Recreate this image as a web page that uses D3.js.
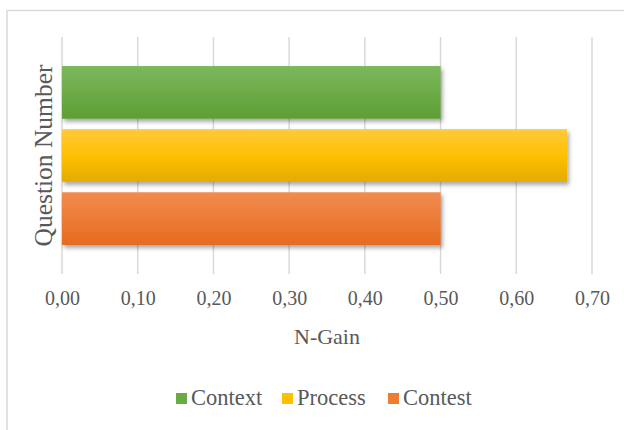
<!DOCTYPE html>
<html>
<head>
<meta charset="utf-8">
<script src="https://cdn.jsdelivr.net/npm/d3@7"></script>
<style>
  body { margin: 0; background: #fff; }
  text { font-family: "Liberation Serif", "Times New Roman", serif; fill: #595959; }
</style>
</head>
<body>
<div class="chart"></div>
<script>
// DATA ------------------------------
const categories = ['Context', 'Process', 'Contest']
const values = [0.50, 0.667, 0.50]
const ticks = [0, 0.1, 0.2, 0.3, 0.4, 0.5, 0.6, 0.7]
const colors = [
  ['#7cb85d', '#5e9e34'],
  ['#ffca3c', '#ffc000', '#e4ab00'],
  ['#f28c50', '#e56b1f']
]
const legendColors = ['#6aab44', '#ffc000', '#ed7d31']

const W = 624, H = 430
const margin = ({top: 37, right: 32, bottom: 156, left: 62})
const width = W - margin.left - margin.right
const height = H - margin.top - margin.bottom

const root = d3.select('.chart').append('svg')
  .attr('width', W).attr('height', H)

// outer frame (only left and top visible)
root.append('rect')
  .attr('x', 7).attr('y', 10.5)
  .attr('width', 640).attr('height', 440)
  .attr('fill', 'none').attr('stroke', '#d9d9d9').attr('stroke-width', 1.5)

const defs = root.append('defs')
defs.append('filter').attr('id', 'shadow')
  .attr('x', '-5%').attr('y', '-20%').attr('width', '115%').attr('height', '150%')
  .append('feDropShadow')
  .attr('dx', 2).attr('dy', 3).attr('stdDeviation', 2)
  .attr('flood-color', '#000').attr('flood-opacity', 0.35)

colors.forEach((c, i) => {
  const g = defs.append('linearGradient').attr('id', 'grad' + i)
    .attr('x1', 0).attr('y1', 0).attr('x2', 0).attr('y2', 1)
  c.forEach((col, j) => {
    g.append('stop').attr('offset', j / (c.length - 1)).attr('stop-color', col)
  })
})

const svg = root.append('g')
  .attr('transform', `translate(${margin.left},${margin.top})`)

const xScale = d3.scaleLinear().domain([0, 0.7]).range([0, width])
const yScale = d3.scaleBand().domain(categories).range([0, height])
  .paddingInner(0.165).paddingOuter(0.46)

// grid
svg.selectAll('.grid').data(ticks).enter().append('line')
  .attr('class', 'grid')
  .attr('x1', d => xScale(d)).attr('x2', d => xScale(d))
  .attr('y1', 0).attr('y2', height)
  .attr('stroke', '#d9d9d9').attr('stroke-width', 1.5)

// x axis labels
const xAxis = d3.axisBottom(xScale).tickValues(ticks)
  .tickFormat(d => d3.format('.2f')(d).replace('.', ','))
  .tickSize(0).tickPadding(17)
const xg = svg.append('g').attr('transform', `translate(0,${height})`).call(xAxis)
xg.select('.domain').remove()
xg.selectAll('text').style('font-size', '20px').attr('fill', '#595959')

// bars
svg.selectAll('.bar').data(categories).enter().append('rect')
  .attr('class', 'bar')
  .attr('x', xScale(0))
  .attr('y', d => yScale(d))
  .attr('width', (d, i) => xScale(values[i]) - xScale(0))
  .attr('height', yScale.bandwidth())
  .attr('fill', (d, i) => `url(#grad${i})`)
  .attr('filter', 'url(#shadow)')

// axis titles
svg.append('text')
  .attr('x', width / 2).attr('y', height + 70)
  .attr('text-anchor', 'middle').style('font-size', '22px')
  .text('N-Gain')

svg.append('text')
  .attr('transform', `translate(-10,${yScale('Process') + yScale.bandwidth() / 2}) rotate(-90)`)
  .attr('text-anchor', 'middle').style('font-size', '25.5px')
  .text('Question Number')

// legend
const legendX = [176, 282, 388]
const legend = root.append('g').selectAll('g').data(categories).enter().append('g')
  .attr('transform', (d, i) => `translate(${legendX[i]},393)`)
legend.append('rect')
  .attr('width', 11).attr('height', 11)
  .attr('fill', (d, i) => legendColors[i])
legend.append('text')
  .attr('x', 15).attr('y', 12)
  .style('font-size', '22.5px')
  .text(d => d)
</script>
</body>
</html>
